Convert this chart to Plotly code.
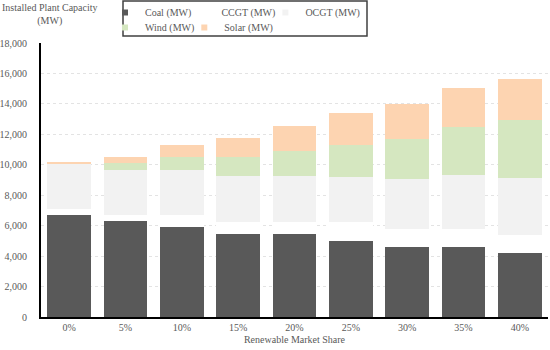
import plotly.graph_objects as go

categories = ["0%", "5%", "10%", "15%", "20%", "25%", "30%", "35%", "40%"]
coal = [6700, 6300, 5900, 5450, 5450, 5000, 4600, 4600, 4200]
ccgt = [420, 370, 780, 780, 780, 1220, 1210, 1210, 1220]
ocgt = [2960, 3020, 2950, 3020, 3020, 3010, 3240, 3500, 3740]
wind = [0, 400, 860, 1250, 1650, 2070, 2640, 3200, 3770]
solar = [80, 440, 800, 1240, 1670, 2070, 2310, 2530, 2720]

series_names = ["Coal (MW)", "CCGT (MW)", "OCGT (MW)", "Wind (MW)", "Solar (MW)"]
series_values = [coal, ccgt, ocgt, wind, solar]
series_colors = ["#595959", "#ffffff", "#f2f2f2", "#d5e7c0", "#fdd4b1"]
series_legend = ["legend", "legend", "legend", "legend2", "legend2"]

FONT = "Liberation Serif, Times New Roman, serif"
TXT = "#595959"
W, H = 550, 350
ML, MR, MT, MB = 41, 2, 43, 33
PW, PH = W - ML - MR, H - MT - MB


def px(x):
    return (x - ML) / PW


def py(y):
    return (H - MB - y) / PH


fig = go.Figure()
for name, vals, col in zip(series_names, series_values, series_colors):
    fig.add_trace(go.Bar(
        x=categories, y=vals, name=name, marker_color=col,
        marker_line_width=0, showlegend=False, legendgroup=name,
    ))
# legend entries (small square keys, like the original)
for name, col, lg in zip(series_names, series_colors, series_legend):
    fig.add_trace(go.Scatter(
        x=[None], y=[None], mode="markers", name=name, legend=lg,
        legendgroup=name,
        marker=dict(symbol="square", size=6, color=col, line_width=0),
    ))

legend_common = dict(
    orientation="h", bgcolor="rgba(0,0,0,0)", borderwidth=0,
    font=dict(family=FONT, size=10, color=TXT),
    xanchor="left", yanchor="top", itemwidth=30, indentation=-15,
    itemsizing="trace", tracegroupgap=0, traceorder="normal",
)

fig.update_layout(
    width=W, height=H,
    margin=dict(l=ML, r=MR, t=MT, b=MB, autoexpand=False),
    paper_bgcolor="white", plot_bgcolor="white",
    barmode="stack", bargap=0.22,
    font=dict(family=FONT, size=10, color=TXT),
    legend=dict(x=px(120), y=py(-2), **legend_common),
    legend2=dict(x=px(120), y=py(13), **legend_common),
    xaxis=dict(
        title=dict(text="Renewable Market Share",
                   font=dict(family=FONT, size=10, color=TXT), standoff=4),
        showline=True, linecolor="black", linewidth=2,
        tickfont=dict(family=FONT, size=10, color=TXT), ticks="", showgrid=False,
    ),
    yaxis=dict(
        range=[0, 18000], dtick=2000, tickformat=",",
        showline=True, linecolor="black", linewidth=2,
        gridcolor="#e3e3e3", griddash="dot", gridwidth=1,
        ticks="outside", ticklen=10, tickcolor="rgba(0,0,0,0)",
        tickfont=dict(family=FONT, size=10, color=TXT), zeroline=False,
    ),
    shapes=[dict(
        type="rect", xref="paper", yref="paper",
        x0=px(123), x1=px(367), y0=py(36), y1=py(1),
        line=dict(color="#404040", width=1.5), fillcolor="rgba(0,0,0,0)",
    )],
    annotations=[dict(
        text="Installed Plant Capacity<br>(MW)", xref="paper", yref="paper",
        x=px(50), y=py(0), xanchor="center", yanchor="top",
        showarrow=False, align="center",
        font=dict(family=FONT, size=10, color=TXT),
    )],
)

fig.write_html("out.html", config={"displayModeBar": False},
               post_script="document.body.style.margin='0';")
